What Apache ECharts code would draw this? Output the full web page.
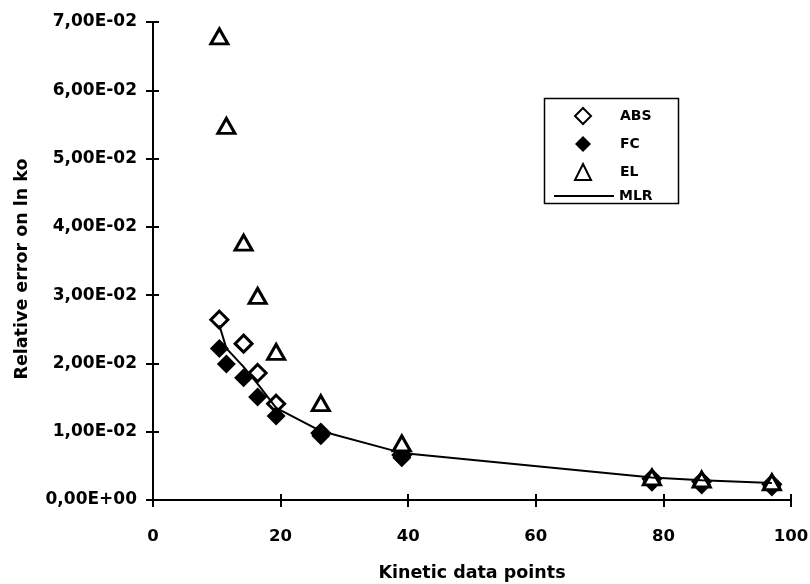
<!DOCTYPE html>
<html>
<head>
<meta charset="UTF-8">
<script src="https://cdn.jsdelivr.net/npm/echarts@6/dist/echarts.min.js"></script>
<style>
  html, body { margin: 0; padding: 0; background: #fff; }
  #main { width: 810px; height: 584px; }
</style>
</head>
<body>
<div id="main"></div>
<script>
// kinetic data points (x) shared by all series
var points = [10.4, 11.5, 14.2, 16.4, 19.3, 26.3, 39, 78.2, 86, 97];
var absErr = [0.0264, null, 0.0229, 0.0186, 0.0141, 0.0098, 0.0066, 0.0031, 0.0027, 0.0023];
var fcErr  = [0.0222, 0.0199, 0.0179, 0.0151, 0.0123, 0.0094, 0.0062, 0.0026, 0.0022, 0.0019];
var elErr  = [0.0679, 0.0548, 0.0377, 0.0299, 0.0217, 0.0142, 0.0083, 0.0033, 0.0030, 0.0026];
var mlrErr = [0.0256, 0.0222, 0.0195, 0.0170, 0.0135, 0.0101, 0.0069, 0.0033, 0.0029, 0.0025];
var yTickLabels = ['0,00E+00', '1,00E-02', '2,00E-02', '3,00E-02', '4,00E-02', '5,00E-02', '6,00E-02', '7,00E-02'];
var xTickLabels = ['0', '20', '40', '60', '80', '100'];

function pairs(ys) {
  var out = [];
  ys.forEach(function (y, i) { if (y != null) out.push([points[i], y]); });
  return out;
}

var font = '"DejaVu Sans", sans-serif';
var black = '#000';

var chart = echarts.init(document.getElementById('main'), null, { renderer: 'canvas' });

var hollow = { color: '#fff', borderColor: black, borderWidth: 3, opacity: 1 };
var legendText = { fontFamily: font, fontWeight: 'bold', fontSize: 14, color: black };

var option = {
  animation: false,
  backgroundColor: '#fff',
  grid: { left: 153, right: 19, top: 22, bottom: 84, containLabel: false, outerBoundsMode: 'none' },
  graphic: [{
    type: 'rect', left: 542, top: 96, z: 100,
    shape: { width: 134, height: 105 },
    style: { fill: 'none', stroke: black, lineWidth: 1.5 }
  }],
  legend: [{
    orient: 'vertical',
    left: 574,
    top: 107,
    padding: 0,
    itemGap: 11,
    itemWidth: 16,
    itemHeight: 16,
    textStyle: Object.assign({ padding: [0, 0, 0, 24] }, legendText),
    data: ['ABS', 'FC', 'EL']
  }, {
    left: 553,
    top: 189,
    padding: 0,
    itemWidth: 60,
    itemHeight: 16,
    textStyle: legendText,
    data: [{ name: 'MLR', itemStyle: { opacity: 0 } }]
  }],
  xAxis: [{
    type: 'value', min: 0, max: 100, interval: 20,
    name: 'Kinetic data points', nameLocation: 'middle', nameGap: 64,
    nameTextStyle: { fontFamily: font, fontWeight: 'bold', fontSize: 17.5, color: black },
    axisLine: { onZero: false, lineStyle: { color: black, width: 2 } },
    axisTick: { show: true, length: 7, lineStyle: { color: black, width: 2 } },
    axisLabel: {
      margin: 28, fontFamily: font, fontWeight: 'bold', fontSize: 16.5, color: black,
      formatter: function (v, i) { return xTickLabels[i]; }
    },
    splitLine: { show: false }
  }, {
    type: 'value', min: 0, max: 100, interval: 20, position: 'bottom', offset: 0,
    axisLine: { show: false },
    axisTick: { show: true, inside: true, length: 6, lineStyle: { color: black, width: 2 } },
    axisLabel: { show: false },
    splitLine: { show: false }
  }],
  yAxis: [{
    type: 'value', min: 0, max: 0.07, interval: 0.01,
    name: 'Relative error on ln ko', nameLocation: 'middle', nameGap: 122,
    nameTextStyle: { fontFamily: font, fontWeight: 'bold', fontSize: 17.5, color: black, padding: [0, 16, 0, 0] },
    axisLine: { onZero: false, lineStyle: { color: black, width: 2 } },
    axisTick: { show: true, length: 7, lineStyle: { color: black, width: 2 } },
    axisLabel: {
      margin: 16, fontFamily: font, fontWeight: 'bold', fontSize: 17, color: black,
      formatter: function (v, i) { return yTickLabels[i]; }
    },
    splitLine: { show: false }
  }, {
    type: 'value', min: 0, max: 0.07, interval: 0.01, position: 'left', offset: 0,
    axisLine: { show: false },
    axisTick: { show: true, inside: true, length: 6, lineStyle: { color: black, width: 2 } },
    axisLabel: { show: false },
    splitLine: { show: false }
  }],
  series: [
    {
      name: 'ABS', type: 'scatter', symbol: 'diamond', symbolSize: 17,
      itemStyle: hollow, data: pairs(absErr), z: 3
    },
    {
      name: 'FC', type: 'scatter', symbol: 'diamond', symbolSize: 19,
      itemStyle: { color: black, opacity: 1 }, data: pairs(fcErr), z: 4
    },
    {
      name: 'EL', type: 'scatter', symbol: 'triangle', symbolSize: [17, 15],
      itemStyle: hollow, data: pairs(elErr), z: 5
    },
    {
      name: 'MLR', type: 'line', symbol: 'none', smooth: false,
      lineStyle: { color: black, width: 2 }, itemStyle: { color: black },
      data: pairs(mlrErr), z: 6
    }
  ]
};

chart.setOption(option);
</script>
</body>
</html>
